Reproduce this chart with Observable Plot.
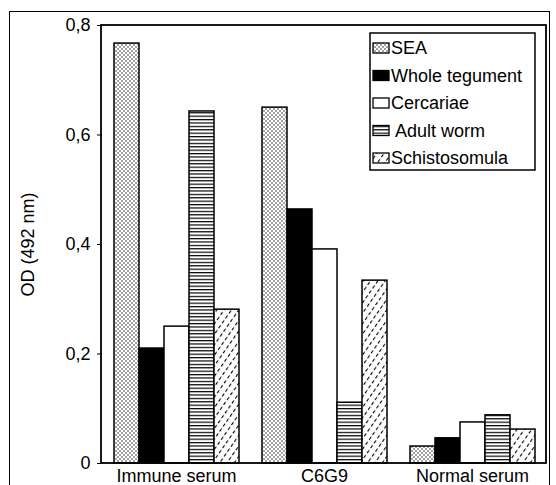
<!DOCTYPE html>
<html><head><meta charset="utf-8">
<script src="https://cdn.jsdelivr.net/npm/d3@7"></script>
<script src="https://cdn.jsdelivr.net/npm/@observablehq/plot@0.6"></script>
<style>
body{margin:0;background:#fff;}
#wrap{position:relative;width:556px;height:485px;overflow:hidden;font-family:"Liberation Sans",Arial,sans-serif;}
#outer{position:absolute;left:9px;top:11px;width:541px;height:490px;border:1.5px solid #000;box-sizing:border-box;}
#legend{position:absolute;left:0;top:0;}
</style></head><body><div id="wrap"><div id="outer"></div></div>
<script>
const groups = ["Immune serum", "C6G9", "Normal serum"];
const series = ["SEA", "Whole tegument", "Cercariae", "Adult worm", "Schistosomula"];
const legendLabels = ["SEA", "Whole tegument", "Cercariae", " Adult worm", "Schistosomula"];
const immuneSerum = [0.767, 0.210, 0.250, 0.643, 0.281];
const c6g9 = [0.650, 0.464, 0.391, 0.111, 0.334];
const normalSerum = [0.031, 0.046, 0.075, 0.088, 0.062];
const yTicks = [0, 0.2, 0.4, 0.6, 0.8];
const yTickLabels = ["0", "0,2", "0,4", "0,6", "0,8"];
const fills = ["url(#pDots)", "#000", "#fff", "url(#pHlines)", "url(#pDiag)"];

const valuesByGroup = [immuneSerum, c6g9, normalSerum];
const table = groups.flatMap((g, i) => series.map((s, j) => ({group: g, series: s, value: valuesByGroup[i][j]})));

const W = 556, H = 485, ML = 101, MR = 10, MT = 25, MB = 22;
const FONT = "Liberation Sans, Arial, sans-serif";

const plot = Plot.plot({
  width: W, height: H,
  marginLeft: ML, marginRight: MR, marginTop: MT, marginBottom: MB,
  style: {fontFamily: FONT, fontSize: "18px", background: "transparent", color: "#000"},
  fx: {domain: groups, padding: 0, label: null, axis: "bottom", tickSize: 0, tickPadding: 6},
  x: {domain: series, paddingInner: 0, paddingOuter: 0.39, axis: null},
  y: {domain: [0, 0.8], ticks: yTicks, tickFormat: d => yTickLabels[yTicks.indexOf(d)],
      label: "OD (492 nm)", labelAnchor: "center", labelArrow: "none", labelOffset: 81, tickSize: 5, tickPadding: 7},
  color: {domain: series, range: fills},
  marks: [
    Plot.barY(table, {fx: "group", x: "series", y: "value", fill: "series", stroke: "#000", strokeWidth: 1.5})
  ]
});

const svg = d3.select(plot);
const defs = svg.insert("defs", ":first-child");
function addPatterns(defs) {
  const p1 = defs.append("pattern").attr("id", "pDots").attr("patternUnits", "userSpaceOnUse").attr("width", 4).attr("height", 4);
  p1.append("rect").attr("width", 4).attr("height", 4).attr("fill", "#fff");
  p1.append("circle").attr("cx", 1).attr("cy", 1).attr("r", 0.7).attr("fill", "#000");
  p1.append("circle").attr("cx", 3).attr("cy", 3).attr("r", 0.7).attr("fill", "#000");
  const p2 = defs.append("pattern").attr("id", "pHlines").attr("patternUnits", "userSpaceOnUse").attr("width", 4).attr("height", 3.4);
  p2.append("rect").attr("width", 4).attr("height", 3.4).attr("fill", "#fff");
  p2.append("rect").attr("y", 0).attr("width", 4).attr("height", 1.2).attr("fill", "#000");
  const p3 = defs.append("pattern").attr("id", "pDiag").attr("patternUnits", "userSpaceOnUse").attr("width", 6).attr("height", 6).attr("patternTransform", "rotate(-55)");
  p3.append("rect").attr("width", 6).attr("height", 6).attr("fill", "#fff");
  p3.append("rect").attr("x", 0).attr("y", 0).attr("width", 3.5).attr("height", 1.1).attr("fill", "#000");
}
addPatterns(defs);

svg.append("rect").attr("x", ML).attr("y", MT).attr("width", W - ML - MR).attr("height", H - MT - MB)
  .attr("fill", "none").attr("stroke", "#000").attr("stroke-width", 1.8);

document.getElementById("wrap").appendChild(plot);
plot.style.position = "absolute"; plot.style.left = "0"; plot.style.top = "0";

// legend
const lg = d3.select("#wrap").append("svg").attr("id", "legend").attr("width", W).attr("height", H);
const bx = 370, by = 33, bw = 165, bh = 137;
lg.append("rect").attr("x", bx).attr("y", by).attr("width", bw).attr("height", bh).attr("fill", "#fff").attr("stroke", "#000").attr("stroke-width", 1.5);
series.forEach((s, i) => {
  const cy = by + 15 + i * 27.5;
  lg.append("rect").attr("x", bx + 3).attr("y", cy - 5).attr("width", 16).attr("height", 10)
    .attr("fill", fills[i]).attr("stroke", "#000").attr("stroke-width", 1.3);
  lg.append("text").attr("x", bx + 21).attr("y", cy).attr("dy", "0.36em")
    .attr("font-family", FONT).attr("font-size", 18)
    .style("white-space", "pre").text(legendLabels[i]);
});
</script></body></html>
